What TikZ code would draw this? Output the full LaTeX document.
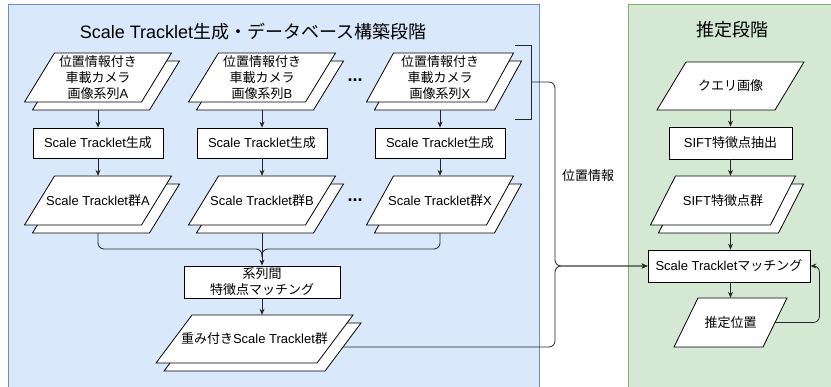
\documentclass[tikz,border=0pt]{standalone}
\usepackage{fontspec}
\setmainfont{Liberation Sans}
\newfontfamily\jp{Noto Sans CJK JP}
\newcommand\J[1]{{\jp #1}}
\usetikzlibrary{arrows.meta,calc}
\definecolor{bluefill}{HTML}{DAE8FC}
\definecolor{bluedraw}{HTML}{6C8EBF}
\definecolor{greenfill}{HTML}{D5E8D4}
\definecolor{greendraw}{HTML}{82B366}
\tikzset{
  shp/.style={draw=black, fill=white, line width=0.8pt, line join=miter},
  ptext/.style={align=center, inner sep=0pt, font=\fontsize{13}{16}\selectfont},
  boxn/.style={ptext, draw=black, fill=white, line width=0.8pt},
  line/.style={draw=black!85, line width=0.8pt},
  arr/.style={line, -{Stealth[length=6pt,width=5pt]}},
  title/.style={inner sep=0pt, font=\fontsize{18}{20}\selectfont},
}
\newcommand\singleshape[7]{%
  \draw[shp] ({#2-#4/2+#6},{#3-#5/2}) -- ({#2+#4/2},{#3-#5/2}) -- ({#2+#4/2-#6},{#3+#5/2}) -- ({#2-#4/2},{#3+#5/2}) -- cycle;
  \node[ptext, minimum width=#4pt, minimum height=#5pt] (#1) at (#2,#3) {#7};}
\newcommand\stackshape[7]{%
  \draw[shp] ({#2-#4/2+8+#6},{#3-#5/2+8}) -- ({#2+#4/2+8},{#3-#5/2+8}) -- ({#2+#4/2+8-#6},{#3+#5/2+8}) -- ({#2-#4/2+8},{#3+#5/2+8}) -- cycle;
  \singleshape{#1}{#2}{#3}{#4}{#5}{#6}{#7}}
\begin{document}
\begin{tikzpicture}[x=1pt,y=-1pt]
\useasboundingbox (0,0) rectangle (831,387);
% panels
\draw[fill=bluefill, draw=bluedraw, line width=0.8pt] (8,4) rectangle (539,392);
\draw[fill=greenfill, draw=greendraw, line width=0.8pt] (628,4) rectangle (840,392);
\node[title] (t1) at (253,32) {Scale Tracklet\J{生成・データベース構築段階}};
\node[title] (t2) at (732,30) {\J{推定段階}};
% inputs
\stackshape{inA}{98}{77.5}{147}{49}{30}{\J{位置情報付き}\\\J{車載カメラ}\\\J{画像系列}A}
\stackshape{inB}{262}{77.5}{147}{49}{30}{\J{位置情報付き}\\\J{車載カメラ}\\\J{画像系列}B}
\stackshape{inX}{440}{77.5}{147}{49}{27}{\J{位置情報付き}\\\J{車載カメラ}\\\J{画像系列}X}
% generation boxes
\node[boxn, minimum width=130pt, minimum height=30pt] (genA) at (98,143) {Scale Tracklet\J{生成}};
\node[boxn, minimum width=130pt, minimum height=30pt] (genB) at (262,143) {Scale Tracklet\J{生成}};
\node[boxn, minimum width=130pt, minimum height=30pt] (genX) at (440,143) {Scale Tracklet\J{生成}};
% tracklet groups
\stackshape{grA}{98}{200.5}{147}{49}{30}{Scale Tracklet\J{群}A}
\stackshape{grB}{262}{200.5}{147}{49}{30}{Scale Tracklet\J{群}B}
\stackshape{grX}{440}{200.5}{147}{49}{27}{Scale Tracklet\J{群}X}
% dots
\node[inner sep=0pt, font=\fontsize{18}{20}\selectfont\bfseries] (dots1) at (355,80) {...};
\node[inner sep=0pt, font=\fontsize{18}{20}\selectfont\bfseries] (dots2) at (355,200) {...};
% matching between series
\node[boxn, minimum width=156pt, minimum height=32pt] (kei) at (262,282) {\J{系列間}\\\J{特徴点マッチング}};
\stackshape{wt}{254.5}{339}{197}{48}{36}{\J{重み付き}Scale Tracklet\J{群}}
% estimation side
\singleshape{qry}{730.5}{86}{147}{48}{29}{\J{クエリ画像}}
\node[boxn, minimum width=123pt, minimum height=32pt] (sift) at (730.5,143) {SIFT\J{特徴点抽出}};
\stackshape{sgr}{723}{200.5}{145}{49}{25}{SIFT\J{特徴点群}}
\node[boxn, minimum width=162pt, minimum height=32pt] (match) at (729,266) {Scale Tracklet\J{マッチング}};
\singleshape{est}{730.5}{322.5}{113}{49}{24}{\J{推定位置}}
\node[ptext] (pos) at (588,176) {\J{位置情報}};
% left connectors
\draw[arr] ([yshift=-8pt]inA.south) -- (genA.north);
\draw[arr] ([yshift=-8pt]inB.south) -- (genB.north);
\draw[arr] ([yshift=-8pt]inX.south) -- (genX.north);
\draw[arr] (genA.south) -- (grA.north);
\draw[arr] (genB.south) -- (grB.north);
\draw[arr] (genX.south) -- (grX.north);
\coordinate (mrg) at (262,249);
\draw[line, rounded corners=6pt] ([yshift=-8pt]grA.south) |- (mrg) -- ++(0,8);
\draw[line, rounded corners=6pt] ([yshift=-8pt]grX.south) |- (mrg) -- ++(0,8);
\draw[arr] ([yshift=-8pt]grB.south) -- (kei.north);
\draw[arr] (kei.south) -- (kei.south |- wt.north);
% bracket and position info
\coordinate (bt) at (515,45);
\coordinate (bb) at (515,119);
\coordinate (brk) at (531,82);
\draw[line] (bt) -- (531,45) -- (531,119) -- (bb);
\coordinate (junc) at (555,266);
\draw[arr, rounded corners=6pt] (brk) -| (junc) -- (match.west);
\draw[arr, rounded corners=6pt] ([xshift=-10pt,yshift=-8pt]wt.east) -| (junc) -- (match.west);
% right connectors
\draw[arr] (qry.south -| sift.south) -- (sift.north);
\draw[arr] (sift.south) -- (sift.south |- sgr.north);
\draw[arr] ([yshift=-8pt]sgr.south -| sift.south) -- (match.north -| sift.south);
\draw[arr] (match.south -| est.north) -- (est.north);
\draw[arr, rounded corners=6pt] ([xshift=-12pt]est.east) -| ([xshift=9pt]match.east) -- (match.east);
\end{tikzpicture}
\end{document}
